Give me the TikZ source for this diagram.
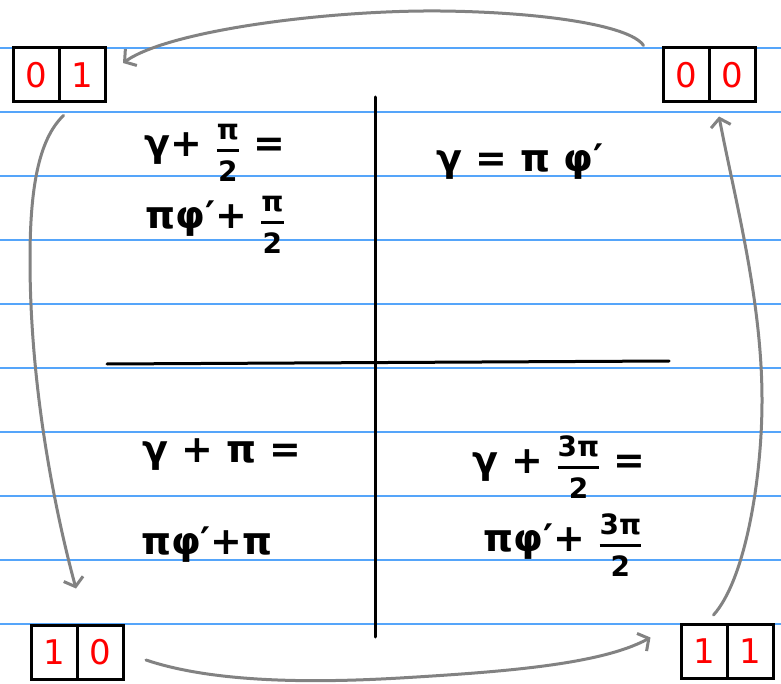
\documentclass[tikz,border=0pt]{standalone}
\usepackage{amsmath}
\usepackage{fontspec}
\setmainfont{DejaVu Sans}
\usetikzlibrary{arrows.meta}
\definecolor{rulecol}{RGB}{85,165,250}
\definecolor{arrcol}{RGB}{130,130,130}
\definecolor{digcol}{RGB}{255,0,0}
\newcommand\hf[2]{$\genfrac{}{}{3pt}{0}{\text{\bfseries\fontsize{28}{28}\selectfont #1}}{\text{\bfseries\fontsize{28}{28}\selectfont #2}}$}
\tikzset{
  cell/.style={draw=black, line width=3pt, minimum width=46pt, minimum height=54pt,
    inner sep=0pt, text=digcol, font=\fontsize{34}{40}\selectfont},
  eq/.style={inner sep=0pt, font=\bfseries\fontsize{38}{44}\selectfont},
  conn/.style={draw=arrcol, line width=3pt, line cap=round,
    -{Straight Barb[length=8pt,width=20pt,line width=3pt]}},
  axisline/.style={line width=3pt, line cap=round},
  ruled/.style={draw=rulecol, line width=1.5pt}
}
\begin{document}
\begin{tikzpicture}[x=1pt,y=-1pt]
\useasboundingbox (0,0) rectangle (781,684);
\fill[white] (0,0) rectangle (781,684);
% ruled lines
\foreach \yy in {48,112,176,240,304,368,432,496,560,624}
  \draw[ruled] (0,\yy) -- (781,\yy);
% cross
\coordinate (vt) at (375,97);
\coordinate (vb) at (375,637);
\coordinate (hl) at (107,364);
\coordinate (hr) at (669,361);
\draw[axisline] (vt) -- (vb);
\draw[axisline] (hl) -- (hr);
% boxes
\node[cell] (c01a) at (36,75) {0};
\node[cell] (c01b) at (82.5,75) {1};
\node[cell] (c00a) at (686,75) {0};
\node[cell] (c00b) at (732,75) {0};
\node[cell] (c10a) at (54,652) {1};
\node[cell] (c10b) at (100.5,652) {0};
\node[cell] (c11a) at (704,651.5) {1};
\node[cell] (c11b) at (750,651.5) {1};
% equations
\node[eq] (q1a) at (215,153) {γ+ \hf{π}{2} =};
\node[eq] (q1b) at (215,225) {πφ′+ \hf{π}{2}};
\node[eq] (q2) at (520,162) {γ = π φ′};
\node[eq] (q3a) at (222,455) {γ + π =};
\node[eq] (q3b) at (207,545) {πφ′+π};
\node[eq] (q4a) at (559,467) {γ + \hf{3π}{2} =};
\node[eq] (q4b) at (563,545) {πφ′+ \hf{3π}{2}};
% arrows
\draw[conn] ([shift={(-18,-1)}]c00a.north west) .. controls (630,25) and (540,12) .. (440,11)
  .. controls (330,10) and (170,30) .. ([shift={(16,-12)}]c01b.east);
\draw[conn] ([shift={(3,12)}]c01a.south east) .. controls (38,140) and (30,190) .. (30,260)
  .. controls (30,400) and (60,530) .. ([shift={(22,-35)}]c10a.north);
\draw[conn] ([shift={(21,8)}]c10b.east) .. controls (220,685) and (330,682) .. (400,678)
  .. controls (500,672) and (600,665) .. ([shift={(-29,-14)}]c11a.west);
\draw[conn] ([shift={(-15,-8)}]c11a.north east) .. controls (745,580) and (762,480) .. (762,400)
  .. controls (762,300) and (735,200) .. ([shift={(-13,13)}]c00b.south);
\end{tikzpicture}
\end{document}
